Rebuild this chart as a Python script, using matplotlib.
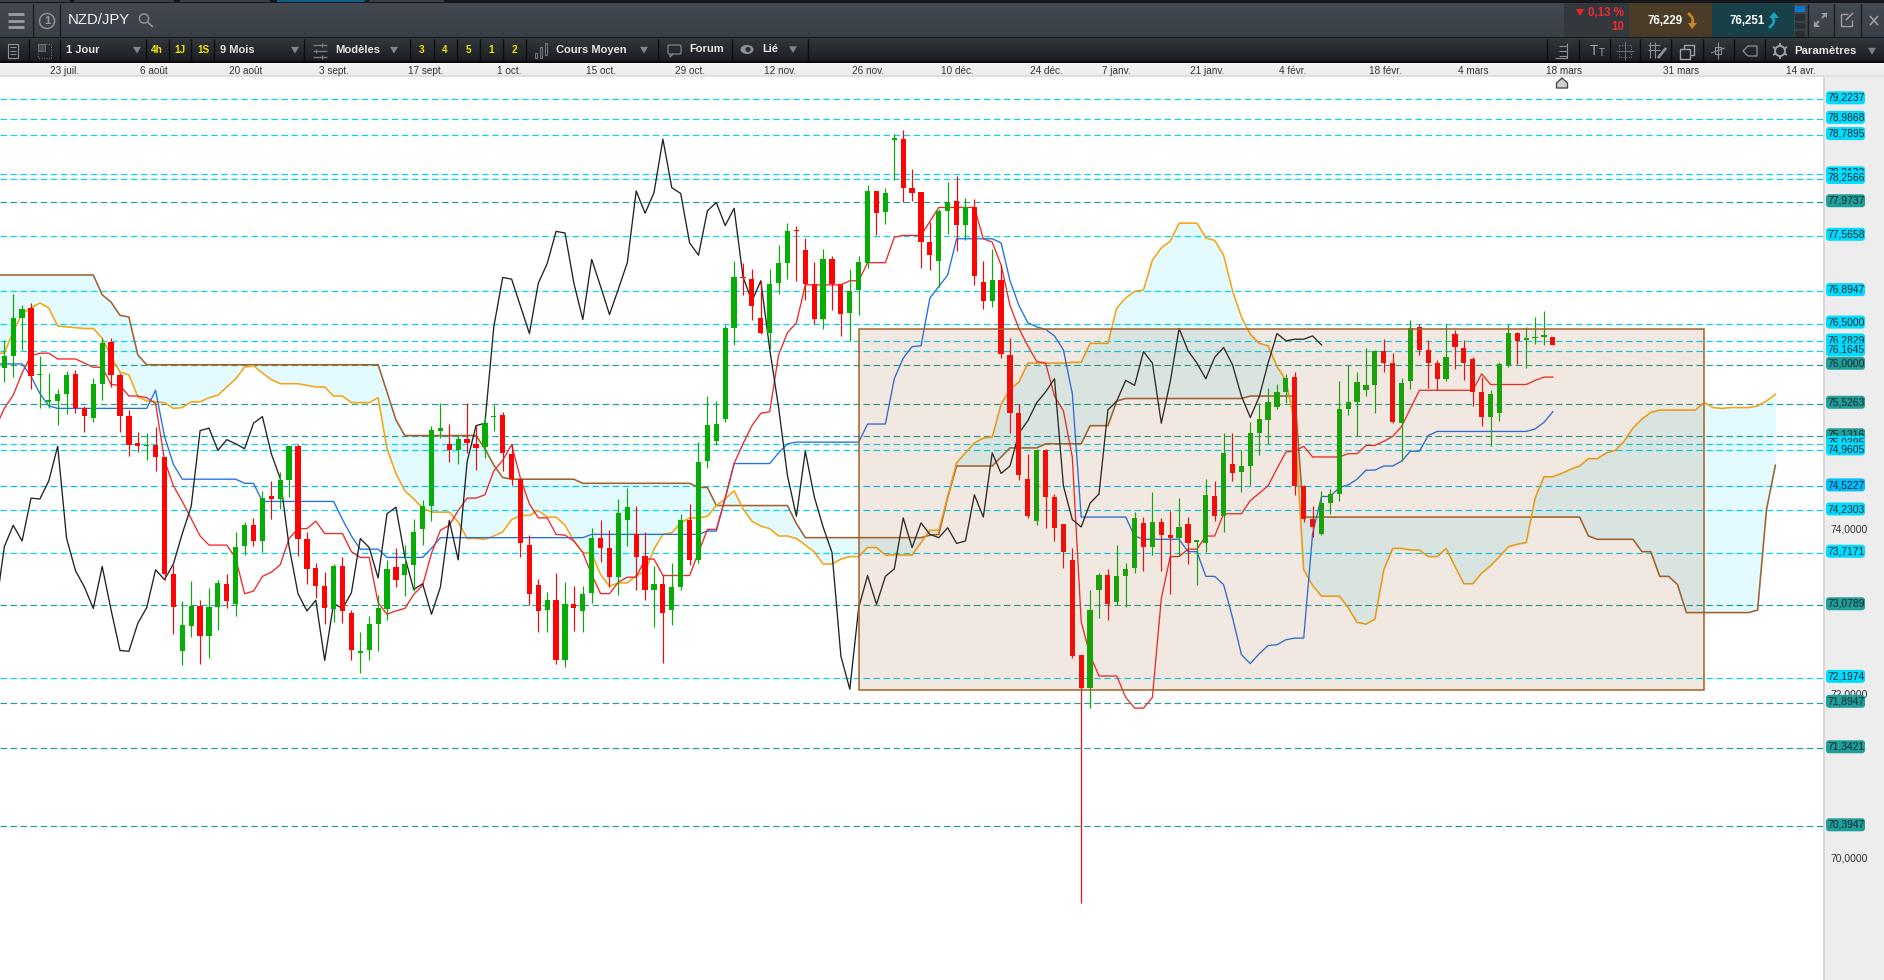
import numpy as np
import matplotlib
matplotlib.use("Agg")
import matplotlib.pyplot as plt
from matplotlib.patches import Rectangle, Polygon, Circle, FancyBboxPatch, Ellipse
from matplotlib.colors import LinearSegmentedColormap

plt.rcParams['font.family'] = ['Liberation Sans', 'DejaVu Sans']

# ---------- candles, one row per ten sessions ----------
opens = [
 75.96,76.11,76.57,76.69,75.87,75.55,75.56,75.65,75.89,75.47,
 75.35,75.77,76.28,75.88,75.38,75.05,75.01,75.03,74.88,73.46,
 72.52,72.83,73.07,72.70,73.06,73.34,73.09,73.80,74.05,73.86,
 74.41,74.37,74.60,75.01,73.88,73.53,73.31,73.03,73.56,72.98,
 72.50,72.53,72.85,73.03,73.54,73.45,73.57,74.00,74.28,75.20,
 75.04,74.96,75.10,75.04,75.00,75.36,75.39,74.92,74.61,73.81,
 73.32,73.02,73.14,72.42,73.10,73.01,73.23,73.90,73.78,73.42,
 74.11,73.94,73.68,73.27,73.34,73.02,73.30,74.12,73.63,74.83,
 75.07,75.34,76.45,77.06,77.04,76.57,76.39,76.99,77.24,77.63,
 77.39,76.98,76.56,77.29,76.98,76.63,76.91,77.24,78.11,77.86,
 78.73,78.74,78.15,78.10,77.49,77.26,77.87,77.99,77.70,77.91,
 77.01,76.77,77.03,76.12,75.41,74.61,74.10,74.97,74.39,74.06,
 73.63,72.47,72.08,73.27,73.45,73.12,73.44,73.53,74.08,73.79,
 74.09,73.93,73.90,74.06,73.85,73.84,74.40,74.16,74.79,74.70,
 74.77,75.17,75.33,75.49,75.67,75.85,74.53,74.13,73.94,74.32,
 74.43,75.46,75.55,75.69,75.75,76.17,76.02,75.29,75.80,76.46,
 76.18,76.02,75.83,76.37,76.20,76.07,75.67,75.37,75.41,76.00,
 76.39,76.30,76.32,76.34,76.34]
highs = [
 76.30,76.86,76.73,76.75,76.11,75.90,75.71,75.92,75.94,75.50,
 75.84,76.32,76.32,75.90,75.45,75.18,75.17,75.24,74.88,73.57,
 73.13,73.37,73.14,73.29,73.39,73.46,73.97,74.09,74.14,74.47,
 74.59,74.70,75.03,75.04,73.97,73.59,73.48,73.58,73.67,73.02,
 72.75,72.95,73.20,73.63,73.77,73.81,74.13,74.36,75.26,75.53,
 75.28,75.15,75.53,75.26,75.37,75.51,75.42,75.04,74.61,73.93,
 73.40,73.24,73.47,73.36,73.31,73.31,74.02,74.11,73.99,74.37,
 74.50,74.28,73.97,73.55,73.45,73.59,74.19,74.31,75.06,75.62,
 75.56,76.48,77.26,77.24,77.16,77.02,77.16,77.45,77.72,77.68,
 77.54,77.25,77.40,77.32,76.98,77.16,77.32,78.18,78.11,78.15,
 78.80,78.85,78.38,78.10,77.73,77.89,78.22,78.29,78.02,78.01,
 77.26,77.41,77.21,76.32,75.52,74.91,74.98,74.98,74.43,74.06,
 73.77,72.48,73.27,73.47,73.52,73.81,73.59,74.21,74.15,74.46,
 74.14,74.22,74.38,74.15,73.87,74.61,74.59,75.17,75.17,74.97,
 75.30,75.53,75.72,75.77,75.89,75.91,74.54,74.28,74.47,74.49,
 75.80,76.00,75.91,76.20,76.18,76.31,76.14,75.84,76.54,76.50,
 76.30,76.06,76.50,76.42,76.30,76.09,75.85,75.69,76.03,76.50,
 76.40,76.46,76.58,76.65,76.34]
lows = [
 75.79,75.85,76.18,75.71,75.47,75.47,75.27,75.40,75.41,75.18,
 75.30,75.57,75.73,75.18,74.89,74.94,74.84,74.71,73.39,72.73,
 72.35,72.69,72.37,72.44,72.78,73.05,72.95,73.69,73.80,73.73,
 74.13,74.25,74.39,73.68,73.34,73.17,72.85,72.88,72.86,72.41,
 72.26,72.41,72.52,72.90,73.30,73.19,73.25,73.81,74.10,75.11,
 74.82,74.80,74.93,74.72,74.87,75.20,74.71,74.54,73.67,73.08,
 72.76,72.75,72.36,72.33,72.77,72.76,73.11,73.61,73.30,73.20,
 73.80,73.27,73.14,72.82,72.38,72.84,73.26,73.57,73.59,74.75,
 75.03,75.30,76.24,76.85,76.54,76.37,76.19,76.86,77.04,77.02,
 76.79,76.49,76.44,76.67,76.35,76.29,76.61,77.17,77.58,77.71,
 78.24,77.98,77.99,77.17,77.15,76.95,77.59,77.38,77.52,76.97,
 76.68,76.70,76.08,75.17,74.60,74.14,74.05,74.02,73.86,73.53,
 72.44,69.46,71.83,72.93,72.90,73.08,73.06,73.47,73.49,73.69,
 73.50,73.22,73.68,73.58,73.33,73.72,74.10,73.97,74.59,74.45,
 74.54,74.90,75.04,75.46,75.53,74.42,74.09,73.91,73.93,74.19,
 74.35,75.39,75.13,75.62,75.41,75.91,75.29,74.83,75.71,76.12,
 75.72,75.69,75.80,75.95,75.81,75.50,75.26,75.01,75.32,75.97,
 76.01,75.96,76.25,76.24,76.24]
closes = [
 76.11,76.57,76.68,75.86,75.88,75.56,75.65,75.88,75.47,75.38,
 75.77,76.27,75.88,75.38,75.03,75.01,75.02,74.88,73.46,73.06,
 72.84,73.07,72.70,73.06,73.35,73.13,73.79,74.05,73.86,74.38,
 74.37,74.60,75.01,73.88,73.52,73.31,73.05,73.56,73.01,72.53,
 72.52,72.85,73.05,73.52,73.39,73.58,73.97,74.28,75.21,75.23,
 74.96,75.10,75.05,74.99,75.29,75.37,74.93,74.61,73.83,73.22,
 73.01,73.14,72.42,73.10,73.05,73.22,73.90,73.78,73.42,74.20,
 74.27,73.67,73.26,73.34,72.98,73.30,74.12,73.63,74.82,75.27,
 75.28,76.45,77.06,77.05,76.71,76.39,76.98,77.24,77.63,77.62,
 76.98,76.56,77.29,76.98,76.62,76.90,77.25,78.11,77.84,78.08,
 78.74,78.15,78.08,77.49,77.33,77.87,77.98,77.70,77.91,77.08,
 76.77,77.03,76.13,75.41,74.66,74.16,74.97,74.39,74.02,73.72,
 72.46,72.08,73.02,73.45,73.10,73.43,73.52,74.14,73.79,74.09,
 73.93,73.90,74.03,73.84,73.86,74.42,74.16,74.93,74.69,74.77,
 75.17,75.34,75.55,75.67,75.84,74.53,74.13,74.03,74.32,74.43,
 75.46,75.55,75.79,75.75,76.17,76.02,75.30,75.78,76.45,76.18,
 76.02,75.83,76.09,76.21,76.02,75.67,75.37,75.64,76.01,76.39,
 76.29,76.31,76.33,76.35,76.24]

# ---------- ichimoku lines, first value belongs to session -1 ----------
tenkan = [75.23,
 75.47,75.63,75.90,76.11,76.14,76.14,76.07,76.07,76.07,76.02,
 75.97,75.97,75.76,75.75,75.62,75.62,75.60,75.53,74.84,74.53,
 74.34,74.13,73.92,73.81,73.81,73.81,73.65,73.22,73.25,73.43,
 73.48,73.57,73.89,74.01,74.01,74.10,73.95,73.95,73.95,73.73,
 73.66,73.66,73.11,72.97,73.01,73.04,73.21,73.32,73.71,73.99,
 74.05,74.23,74.38,74.38,74.42,74.71,74.84,75.03,74.62,74.31,
 74.14,74.14,73.94,73.93,73.86,73.72,73.45,73.22,73.22,73.36,
 73.42,73.42,73.64,73.64,73.44,73.44,73.44,73.44,73.72,74.00,
 74.00,74.38,74.80,75.04,75.26,75.41,75.43,76.12,76.39,76.51,
 76.97,76.97,76.97,76.97,76.97,77.02,77.02,77.24,77.24,77.24,
 77.55,77.57,77.57,77.57,77.74,77.91,77.91,77.91,77.91,77.91,
 77.53,77.49,77.21,76.72,76.44,76.23,76.04,76.02,75.62,75.44,
 74.88,72.88,72.47,72.22,72.22,72.22,71.96,71.83,71.83,71.96,
 73.16,73.67,73.67,73.76,73.76,73.92,73.92,74.19,74.19,74.19,
 74.35,74.44,74.53,74.74,74.94,74.95,75.01,74.88,74.88,74.88,
 74.88,74.92,74.92,75.02,75.02,75.07,75.13,75.25,75.47,75.69,
 75.69,75.69,75.69,75.69,75.69,75.69,75.89,75.76,75.76,75.76,
 75.76,75.76,75.81,75.85,75.85]
kijun = [76.01,
 76.01,76.01,76.01,75.86,75.65,75.50,75.47,75.47,75.47,75.47,
 75.47,75.47,75.47,75.47,75.47,75.47,75.47,75.69,75.13,74.79,
 74.61,74.61,74.61,74.61,74.61,74.61,74.61,74.56,74.56,74.34,
 74.34,74.34,74.34,74.34,74.34,74.34,74.34,74.34,74.12,73.92,
 73.76,73.76,73.76,73.66,73.66,73.66,73.66,73.66,73.77,73.90,
 73.90,73.90,73.90,73.90,73.90,73.90,73.90,73.90,73.90,73.90,
 73.90,73.90,73.90,73.90,73.90,73.90,73.94,73.94,73.94,73.94,
 73.94,73.94,73.94,73.94,73.94,73.94,73.94,73.94,73.94,73.98,
 73.98,74.38,74.80,74.80,74.80,74.80,74.80,74.93,75.04,75.06,
 75.06,75.06,75.06,75.06,75.06,75.06,75.06,75.28,75.28,75.28,
 75.83,76.08,76.22,76.23,76.81,76.95,77.09,77.53,77.53,77.53,
 77.53,77.53,77.48,77.02,76.72,76.51,76.46,76.43,76.35,76.18,
 75.65,74.15,74.15,74.15,74.15,74.15,74.15,73.92,73.88,73.88,
 73.88,73.88,73.88,73.73,73.73,73.43,73.43,73.33,72.93,72.48,
 72.37,72.49,72.59,72.60,72.66,72.68,72.68,73.95,74.40,74.40,
 74.51,74.54,74.61,74.72,74.72,74.77,74.77,74.83,74.95,74.95,
 75.14,75.19,75.19,75.19,75.19,75.19,75.19,75.19,75.19,75.19,
 75.19,75.19,75.22,75.30,75.43]
chikou = [73.00,
 73.79,74.05,73.86,74.38,74.37,74.59,75.01,73.89,73.50,73.30,
 73.04,73.55,73.02,72.53,72.52,72.86,73.05,73.51,73.39,73.58,
 73.95,74.28,75.20,75.23,74.96,75.09,75.04,74.98,75.29,75.37,
 74.92,74.62,73.79,73.22,73.01,73.14,72.41,73.10,73.04,73.23,
 73.89,73.78,73.41,74.19,74.27,73.67,73.27,73.34,72.97,73.30,
 74.11,73.63,74.82,75.26,75.29,76.46,77.06,77.04,76.71,76.38,
 76.99,77.23,77.62,77.60,76.99,76.55,77.28,76.95,76.61,76.92,
 77.24,78.11,77.84,78.09,78.74,78.15,78.08,77.48,77.33,77.87,
 77.97,77.69,77.90,77.07,76.77,77.02,76.19,75.48,74.65,74.16,
 74.95,74.40,74.03,73.72,72.46,72.06,73.05,73.44,73.09,73.43,
 73.52,74.14,73.78,74.08,73.94,73.90,74.02,73.83,73.86,74.42,
 74.15,74.93,74.68,74.77,75.17,75.32,75.54,75.67,75.83,74.53,
 74.12,74.03,74.32,74.43,75.45,75.56,75.81,75.75,76.16,76.02,
 75.29,75.79,76.44,76.17,76.02,75.83,76.09,76.21,76.00,75.62,
 75.36,75.61,76.02,76.38,76.29,76.31,76.31,76.35,76.24]
senkou_a = [76.14,
 76.14,76.40,76.62,76.69,76.75,76.69,76.47,76.46,76.45,76.44,
 76.44,76.32,76.10,75.91,75.88,75.61,75.56,75.55,75.54,75.47,
 75.48,75.55,75.55,75.60,75.63,75.73,75.83,75.97,75.99,75.90,
 75.82,75.77,75.77,75.77,75.75,75.73,75.73,75.62,75.62,75.54,
 75.54,75.54,75.60,74.98,74.68,74.47,74.37,74.26,74.21,74.21,
 74.21,74.09,73.89,73.89,73.88,73.92,73.97,74.12,74.17,74.17,
 74.23,74.15,74.15,74.05,73.86,73.72,73.71,73.45,73.31,73.35,
 73.35,73.44,73.49,73.76,73.94,73.96,74.08,74.14,74.14,74.16,
 74.29,74.37,74.47,74.25,74.10,74.04,74.01,73.92,73.92,73.89,
 73.81,73.73,73.58,73.58,73.64,73.67,73.67,73.78,73.78,73.69,
 73.69,73.69,73.69,73.84,73.99,73.99,74.39,74.81,74.93,75.05,
 75.11,75.12,75.52,75.70,75.79,76.02,76.02,76.02,76.02,76.02,
 76.03,76.03,76.26,76.26,76.26,76.69,76.81,76.89,76.91,77.27,
 77.42,77.50,77.72,77.72,77.72,77.54,77.51,77.33,76.90,76.58,
 76.37,76.26,76.23,75.98,75.81,75.29,73.51,73.32,73.19,73.19,
 73.19,73.05,72.87,72.85,72.91,73.51,73.77,73.77,73.75,73.75,
 73.67,73.67,73.77,73.55,73.34,73.34,73.47,73.56,73.67,73.79,
 73.82,73.84,74.38,74.64,74.64,74.68,74.73,74.77,74.86,74.86,
 74.93,74.96,75.07,75.23,75.34,75.42,75.45,75.45,75.45,75.45,
 75.45,75.54,75.48,75.47,75.48,75.48,75.48,75.50,75.56,75.64]
senkou_b = [77.09,
 77.09,77.09,77.09,77.09,77.09,77.09,77.09,77.09,77.09,77.09,
 77.09,76.85,76.76,76.60,76.58,76.12,76.00,76.00,76.00,76.00,
 76.00,76.00,76.00,76.00,76.00,76.00,76.00,76.00,76.00,76.00,
 76.00,76.00,76.00,76.00,76.00,76.00,76.00,76.00,76.00,76.00,
 76.00,76.00,76.00,75.67,75.33,75.14,75.14,75.14,75.14,75.14,
 75.14,75.14,75.14,75.14,74.98,74.78,74.63,74.61,74.61,74.61,
 74.61,74.61,74.61,74.61,74.61,74.56,74.56,74.56,74.56,74.56,
 74.56,74.56,74.56,74.56,74.56,74.56,74.56,74.56,74.51,74.51,
 74.29,74.29,74.29,74.29,74.29,74.29,74.29,74.29,74.29,74.07,
 73.90,73.90,73.90,73.90,73.90,73.90,73.90,73.90,73.90,73.90,
 73.90,73.90,73.90,73.90,73.93,73.94,74.39,74.77,74.77,74.77,
 74.77,74.77,74.88,74.99,74.99,74.99,74.99,75.04,75.04,75.04,
 75.04,75.04,75.26,75.26,75.26,75.56,75.59,75.59,75.59,75.59,
 75.59,75.59,75.59,75.59,75.59,75.59,75.59,75.59,75.59,75.59,
 75.62,75.62,75.62,75.62,75.62,75.62,74.15,74.15,74.15,74.15,
 74.15,74.15,74.15,74.15,74.15,74.15,74.15,74.15,74.15,74.15,
 74.15,74.15,74.15,74.15,74.15,74.15,74.15,74.15,74.15,74.15,
 74.15,74.15,74.15,74.15,74.15,74.15,74.15,74.15,73.92,73.88,
 73.88,73.88,73.88,73.88,73.73,73.73,73.43,73.43,73.33,72.99,
 72.99,72.99,72.99,72.99,72.99,72.99,72.99,73.02,74.24,74.78]

# ---------- horizontal levels and labels ----------
level_values = [79.2237,78.9868,78.7895,78.3132,78.2566,77.9737,77.5658,76.8947,76.5000,76.2829,76.1645,
                76.0000,75.5263,75.1316,75.0395,74.9605,74.5227,74.2303,73.7171,73.0789,72.1974,71.8947,71.3421,70.3947]
level_kinds = ['c','c','c','c','c','t','c','c','c','c','c','t','t','t','c','c','b','c','c','t','c','t','t','t']
plain_prices = [74.0, 72.0, 70.0]
box_session = [96, 191]
box_price = [72.05, 76.43]
date_labels = ['23 juil.','6 août','20 août','3 sept.','17 sept.','1 oct.','15 oct.','29 oct.','12 nov.','26 nov.',
               '10 déc.','24 déc.','7 janv.','21 janv.','4 févr.','18 févr.','4 mars','18 mars','31 mars','14 avr.']
date_sessions = [6.8,16.8,27.1,37,47.3,56.7,67,77,87.2,97.1,107.1,117.1,125,135.2,144.8,155.2,165,175.3,188.4,201.9]

PX = 1884; PY = 980
LEFT_GUT = 1824; TOP = 77
fig = plt.figure(figsize=(18.84, 9.8), dpi=100, facecolor='white')
main = fig.add_axes([0, 0, LEFT_GUT/PX, (PY-TOP)/PY])
main.set_xlim((0-4.3)/8.9, (LEFT_GUT-4.3)/8.9)
YLIM = (80.4297-PY/82.34, 80.4297-TOP/82.34)
main.set_ylim(*YLIM)
main.axis('off')

col = {'c': '#00d6f5', 't': '#1d9e98', 'b': '#00bdfb'}
# cloud
xa = np.arange(-1, len(senkou_a)-1)
main.fill_between(xa, senkou_a, senkou_b, color='#e3fbfe', lw=0, zorder=1)
# levels
for v, k in zip(level_values, level_kinds):
    main.axhline(v, color=col[k], lw=0.85, ls=(0, (5.5, 3)), zorder=2)
# lines
main.plot(xa, senkou_b, color='#a0622e', lw=1.15, zorder=3)
main.plot(xa, senkou_a, color='#f5a416', lw=1.15, zorder=3)
main.plot(np.arange(-1, len(kijun)-1), kijun, color='#1f6fe8', lw=0.95, zorder=3)
main.plot(np.arange(-1, len(tenkan)-1), tenkan, color='#f02828', lw=0.95, zorder=3)
main.plot(np.arange(-1, len(chikou)-1), chikou, color='#222222', lw=0.95, zorder=3)
# candles
xc = np.arange(len(opens))
o, h, l, c_ = map(np.array, (opens, highs, lows, closes))
colors = np.where(c_ >= o, '#05ad05', '#fb0505')
main.vlines(xc, l, h, colors=colors, lw=0.85, zorder=4)
main.bar(xc, np.maximum(np.abs(c_-o), 0.02), bottom=np.minimum(o, c_), width=5.2/8.9,
         color=colors, lw=0, zorder=5)
# box
main.add_patch(Rectangle((box_session[0], box_price[0]), box_session[1]-box_session[0], box_price[1]-box_price[0],
                         fc=(0.63, 0.36, 0.17, 0.14), ec='none', zorder=6))
main.add_patch(Rectangle((box_session[0], box_price[0]), box_session[1]-box_session[0], box_price[1]-box_price[0],
                         fc='none', ec='#a4602c', lw=1.1, zorder=6.1))

# ---------- right gutter ----------
gut = fig.add_axes([LEFT_GUT/PX-1/PX, 0, (PX-LEFT_GUT+1)/PX, (PY-TOP)/PY], facecolor='#ededed')
gut.set_xlim(LEFT_GUT-1, PX); gut.set_ylim(*YLIM); gut.axis('off')
gut.add_patch(Rectangle((LEFT_GUT-1, YLIM[0]), 61, YLIM[1]-YLIM[0], fc='#ededed', ec='none', zorder=0))
gut.add_patch(Rectangle((LEFT_GUT-1, YLIM[0]), 2.5, YLIM[1]-YLIM[0], fc='#d8d8d8', ec='none', zorder=0.5))
lab = lambda v: f"{v:.4f}".replace('.', ',')
for p in plain_prices:
    gut.text(1830, p, lab(p), fontsize=7.4, va='center', ha='left', color='#333333', zorder=1)
pill = {'c': '#00dcff', 't': '#1f9e9a', 'b': '#00bfff'}
for i, (v, k) in enumerate(zip(level_values, level_kinds)):
    gut.add_patch(FancyBboxPatch((1826, v+0.018-6.5/82.34), 39, 13/82.34,
                                 boxstyle='round,pad=0,rounding_size=3', mutation_aspect=1/82.34,
                                 fc=pill[k], ec='none', zorder=5+2*i))
    gut.text(1827, v+0.016, lab(v), fontsize=7.4, va='center', ha='left',
             color='#10282c', zorder=6+2*i)

# ---------- chrome ----------
ui = fig.add_axes([0, 0, 1, 1], facecolor='none', zorder=10)
def grad(x0, y0, x1, y1, c0, c1):
    cm = LinearSegmentedColormap.from_list('g', [c0, c1])
    ui.imshow(np.linspace(0, 1, 64).reshape(-1, 1), cmap=cm, extent=(x0, x1, y1, y0), aspect='auto', zorder=1)
def R(x, y, w, h, fc, z=2):
    ui.add_patch(Rectangle((x, y), w, h, fc=fc, ec='none', zorder=z))
def T(x, y, s, size=8, color='#e6e6e6', ha='left', weight='bold'):
    ui.text(x, y, s, fontsize=size, color=color, ha=ha, va='center', weight=weight, zorder=6)
def L(xs, ys, color='#8f9396', lw=1.0, z=5):
    ui.plot(xs, ys, color=color, lw=lw, zorder=z, solid_capstyle='butt')
def tri(x, y, s=4, color='#80858a'):
    ui.add_patch(Polygon([(x-s, y-s*0.8), (x+s, y-s*0.8), (x, y+s*0.9)], fc=color, ec='none', zorder=6))

grad(0, 3, PX, 37, '#434950', '#3a4047')
grad(0, 38, PX, 61, '#33383e', '#1a1c20')
R(0, 0, PX, 3, '#15171a'); R(0, 37, PX, 1.5, '#15171a'); R(0, 61, PX, 2, '#0b0b0c')
R(0, 0, 70, 2, '#3a3f45'); R(74, 0, 100, 2, '#3a3f45'); R(180, 0, 90, 2, '#3a3f45'); R(277, 0, 88, 2, '#0f5d86'); R(369, 0, 75, 2, '#3a3f45')
grad(0, 63, PX, 75, '#f3f3f3', '#ededed'); R(0, 75, PX, 2, '#dedede')
R(LEFT_GUT, 75, PX-LEFT_GUT, 2, '#e4e4e4')

for xs in (33, 60):
    L([xs, xs], [4, 37], '#1c1e21', 1)
for y in (14.5, 20.8, 27):
    L([8, 24], [y, y], '#9b9ea1', 2.0)
ui.add_patch(Circle((47, 21), 7.5, fc='none', ec='#8d9094', lw=1.1, zorder=5))
T(47, 21, '1', 8, '#9a9da0', 'center')
T(68, 20, 'NZD/JPY', 10.7, '#f2f2f2', weight='normal')
ui.add_patch(Circle((144, 18.5), 4.6, fc='none', ec='#8d9094', lw=1.1, zorder=5))
L([147.5, 153], [22, 27], '#8d9094', 1.2)

for xs in (29, 60, 146, 168.6, 191, 214, 304, 410, 433.5, 456.7, 479.6, 503, 525.7, 658, 731.7, 808,
           1547, 1579, 1610, 1640, 1671, 1703, 1734, 1765):
    L([xs, xs], [39, 61], '#0d0e10', 1)
T(66, 50, '1 Jour', 8)
tri(137, 50)
for xs, s in ((157, '4h'), (180, '1J'), (203, '1S')):
    T(xs, 50, s, 7.2, '#f5e400', 'center')
T(220, 50, '9 Mois', 8)
tri(295, 50)
T(335, 50, 'Modèles', 8.1)
tri(394, 50)
for xs, s in ((422, '3'), (445, '4'), (468, '5'), (491, '1'), (514, '2')):
    T(xs, 50, s, 7.2, '#f5e400', 'center')
T(556, 50, 'Cours Moyen', 8)
tri(644, 50)
T(689, 49.5, 'Forum', 8)
T(762, 49.5, 'Lié', 8)
tri(793, 49.5)

# small toolbar icons
ui.add_patch(Rectangle((8, 44), 10, 14, fc='none', ec='#8d9094', lw=0.8, zorder=5))
for y in (47.5, 51, 54.5):
    L([10, 16], [y, y], '#8d9094', 0.7)
ui.add_patch(Rectangle((38, 44), 7, 7, fc='#4d5155', ec='#6d7175', lw=0.6, zorder=5))
ui.add_patch(Rectangle((38, 44), 13, 14, fc='none', ec='#7a7e82', lw=0.7, ls=':', zorder=5))
for y, a in ((45, 322), (51, 316), (57, 322)):
    L([313, 327], [y, y], '#777b7f', 1.0)
    L([a, a], [y-1.6, y+1.6], '#777b7f', 1.0)
for xs, y0, y1 in ((536, 53, 58), (541, 47, 58), (546, 43, 55)):
    ui.add_patch(Rectangle((xs-1.4, y0), 2.8, y1-y0, fc='none', ec='#73777b', lw=0.8, zorder=5))
ui.add_patch(FancyBboxPatch((668, 45), 13, 9, boxstyle='round,pad=0,rounding_size=1.5', fc='none', ec='#8d9094', lw=0.8, zorder=5))
L([670, 670, 673], [54, 57, 54], '#8d9094', 0.8)
ui.add_patch(Ellipse((747, 49.5), 13, 9, fc='#8d9094', ec='none', zorder=5))
ui.add_patch(Circle((748, 49.5), 2.6, fc='#2a2d31', ec='none', zorder=5.5))

# right of toolbar
for y in (46, 51, 56):
    L([1559, 1567], [y, y], '#8d9094', 0.8)
L([1555, 1567, 1567], [58, 58, 43], '#8d9094', 0.8)
T(1594, 51, 'T', 10, '#a0a3a6', 'center', 'normal'); T(1602, 53, 'T', 7, '#a0a3a6', 'center', 'normal')
ui.add_patch(Rectangle((1619, 45), 12, 12, fc='none', ec='#777b7f', lw=0.7, ls=':', zorder=5))
L([1625, 1625], [41, 60], '#777b7f', 0.6, 5); L([1616, 1634], [51, 51], '#777b7f', 0.6, 5)
for d in (-3, 2):
    L([1653+d, 1653+d], [42, 58], '#8d9094', 0.8); L([1648, 1660], [48+d, 48+d], '#8d9094', 0.8)
L([1658, 1666], [58, 48], '#8d9094', 2.0)
ui.add_patch(Rectangle((1680, 49), 10, 10, fc='none', ec='#a0a3a6', lw=1.0, zorder=5))
L([1684, 1684, 1694, 1694, 1690], [49, 45, 45, 55, 55], '#a0a3a6', 1.0)
L([1711, 1725], [53, 48], '#8d9094', 0.8)
ui.add_patch(Rectangle((1715, 47), 6, 7, fc='none', ec='#8d9094', lw=0.8, zorder=5))
L([1718, 1718], [42, 59], '#8d9094', 0.8)
ui.add_patch(Polygon([(1743, 51), (1748, 46), (1757, 46), (1757, 56), (1748, 56)], fc='none', ec='#8d9094', lw=0.9, zorder=5))
ui.add_patch(Circle((1780, 51), 5, fc='none', ec='#a0a3a6', lw=1.4, zorder=5))
for ang in np.deg2rad([30, 90, 150, 210, 270, 330]):
    L([1780+5*np.cos(ang), 1780+8*np.cos(ang)], [51+5*np.sin(ang), 51+8*np.sin(ang)], '#a0a3a6', 1.4)
T(1794, 51, 'Paramètres', 8.2)
tri(1872, 51)

# quote panels
R(1564, 3, 65, 34, '#33383e')
R(1629, 3, 83, 34, '#4a3c27')
R(1712, 3, 82, 34, '#174049')
ui.add_patch(Polygon([(1576, 9), (1584, 9), (1580, 16)], fc='#f22222', ec='none', zorder=6))
T(1624, 13, '0,13 %', 8.3, '#f02a2a', 'right')
T(1624, 27, '10', 8.3, '#f02a2a', 'right')
T(1665, 20.5, '76,229', 8.3, '#ffffff', 'center')
T(1747.5, 20.5, '76,251', 8.3, '#ffffff', 'center')
ui.plot([1689, 1692, 1693, 1692], [14, 17, 21, 24], color='#c8861e', lw=1.9, zorder=6)
ui.add_patch(Polygon([(1688, 23), (1697, 23), (1692, 29)], fc='#c8861e', ec='none', zorder=6))
ui.plot([1770, 1773, 1774, 1772], [27, 24, 20, 17], color='#15a6bd', lw=1.9, zorder=6)
ui.add_patch(Polygon([(1769, 18), (1779, 18), (1774, 12)], fc='#15a6bd', ec='none', zorder=6))
for y, fc in ((6, '#0a78c8'), (14.5, '#2b2f34'), (23, '#2b2f34'), (31, '#2b2f34')):
    R(1795, y, 10, 6.5, fc, 4)
for xs in (1808, 1834, 1861):
    L([xs, xs], [4, 37], '#1c1e21', 1)
L([1814, 1819], [26, 21], '#9a9da0', 1.4); L([1822, 1827], [18, 13], '#9a9da0', 1.4)
ui.add_patch(Polygon([(1814, 21), (1814, 27), (1820, 27)], fc='#9a9da0', ec='none', zorder=6))
ui.add_patch(Polygon([(1827, 18), (1827, 13), (1821, 13)], fc='#9a9da0', ec='none', zorder=6))
L([1848, 1841, 1841, 1852, 1852], [14, 14, 26, 26, 20], '#9a9da0', 1.0)
L([1846, 1853], [20, 13], '#9a9da0', 1.2)
L([1870, 1878], [16, 25], '#9a9da0', 1.2); L([1878, 1870], [16, 25], '#9a9da0', 1.2)

# date labels
for s, d in zip(date_labels, date_sessions):
    T(4.3+8.9*d, 70.5, s, 7.2, '#333333', 'center', 'normal')
# marker house
ui.add_patch(Polygon([(1556.5, 88), (1556.5, 83), (1562, 78), (1567.5, 83), (1567.5, 88)], fc='#cfcfcf', ec='#4a4a4a', lw=1.0, zorder=6))

ui.set_xlim(0, PX); ui.set_ylim(PY, 0); ui.axis('off')
fig.savefig('out.png', dpi=100)
